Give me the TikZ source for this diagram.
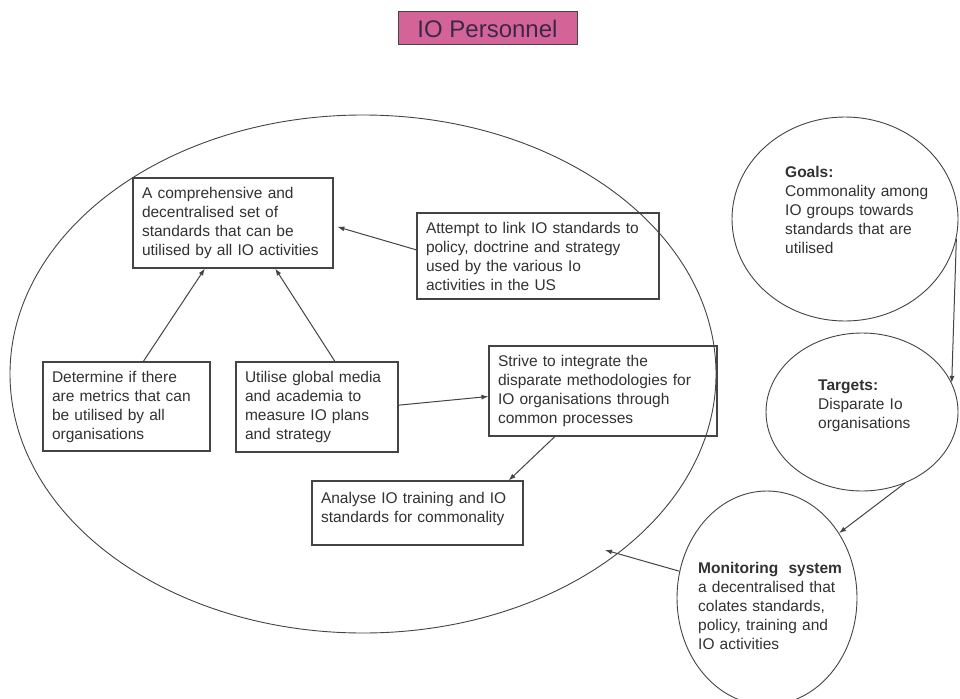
\documentclass[tikz,border=0pt]{standalone}
\usepackage{fontspec}
\setmainfont{Liberation Sans}
\usetikzlibrary{shapes.geometric,arrows.meta,calc}
\definecolor{ink}{RGB}{50,50,50}
\definecolor{edge}{RGB}{68,68,68}
\definecolor{titlepink}{RGB}{212,100,152}
\definecolor{titleink}{RGB}{60,40,70}

\begin{document}
\begin{tikzpicture}[x=1pt,y=-1pt,
  every node/.style={text=ink, font=\fontsize{15.5}{19}\selectfont},
  stepbox/.style={draw=edge, line width=1.1pt, rectangle, inner xsep=9pt, inner ysep=0pt, align=left},
  oval/.style={draw=edge, line width=0.9pt, ellipse, inner sep=0pt},
  ovaltext/.style={anchor=base west, inner sep=0pt, align=left, text width=#1},
  link/.style={draw=edge, line width=1pt, -{Latex[length=7pt,width=5pt]}}]

% page area
\fill[white] (0,0) rectangle (960,698);
\useasboundingbox (0,0) rectangle (960,698);

% heading
\node[draw=edge, line width=1pt, fill=titlepink, minimum width=179pt, minimum height=33pt,
      inner sep=0pt, text=titleink, font=\fontsize{24}{27}\selectfont] (title) at (487.5,28.5) {IO Personnel};

% large enclosing ellipse
\node[oval, minimum width=706pt, minimum height=518pt] (frame) at (363,374) {};

% side ellipses
\node[oval, minimum width=226pt, minimum height=204pt] (goals) at (845,219) {};
\node[oval, minimum width=192pt, minimum height=158pt] (targets) at (862,412) {};
\node[oval, minimum width=180pt, minimum height=214pt] (monitor) at (767,598) {};

\node[ovaltext=165pt] (goalstext) at (785,177)
  {\textbf{Goals:}\\Commonality among\\IO groups towards\\standards that are\\utilised};
\node[ovaltext=120pt] (targetstext) at (818,390)
  {\textbf{Targets:}\\Disparate Io\\organisations};
\node[ovaltext=150pt] (monitortext) at (698,573)
  {\textbf{Monitoring\ \ system}\\a decentralised that\\colates standards,\\policy, training and\\IO activities};

% boxes
\node[stepbox, minimum width=200pt, minimum height=90pt, text width=182pt] (A) at (233,223)
  {A comprehensive and\\decentralised set of\\standards that can be\\utilised by all IO activities};
\node[stepbox, minimum width=242pt, minimum height=86pt, text width=224pt] (B) at (538,256)
  {Attempt to link IO standards to\\policy, doctrine and strategy\\used by the various Io\\activities in the US};
\node[stepbox, minimum width=167pt, minimum height=89pt, text width=149pt] (C) at (126.5,406.5)
  {Determine if there\\are metrics that can\\be utilised by all\\organisations};
\node[stepbox, minimum width=162pt, minimum height=90pt, text width=144pt] (D) at (317,407)
  {Utilise global media\\and academia to\\measure IO plans\\and strategy};
\node[stepbox, minimum width=228pt, minimum height=90pt, text width=210pt] (E) at (603,391)
  {Strive to integrate the\\disparate methodologies for\\IO organisations through\\common processes};
\node[stepbox, minimum width=211pt, minimum height=64pt, text width=193pt, text depth=31pt] (F) at (417.5,513)
  {Analyse IO training and IO\\standards for commonality};

% connectors
\draw[link] ($(C.north west)!0.6!(C.north east)$) -- ($(A.south west)!0.36!(A.south east)$);
\draw[link] ($(D.north west)!0.61!(D.north east)$) -- ($(A.south west)!0.71!(A.south east)$);
\draw[link, shorten >=4pt] ($(B.north west)!0.43!(B.south west)$) -- ($(A.north east)!0.53!(A.south east)$);
\draw[link] ($(D.north east)!0.48!(D.south east)$) -- ($(E.north west)!0.56!(E.south west)$);
\draw[link] ($(E.south west)!0.29!(E.south east)$) -- ($(F.north west)!0.93!(F.north east)$);
\draw[link] (goals.-10) -- (targets.18);
\draw[link] (targets.-59) -- (monitor.42);
\coordinate (inside) at (605,550);
\draw[link] (monitor.163) -- (inside);

\end{tikzpicture}
\end{document}
